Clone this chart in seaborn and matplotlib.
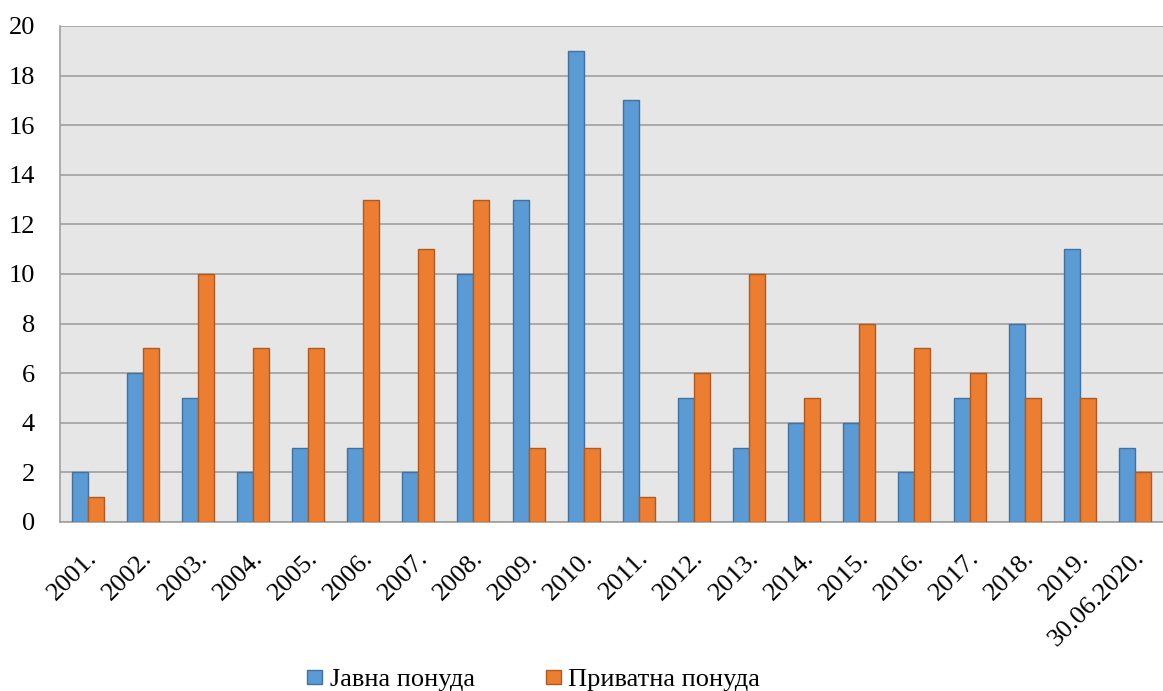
import matplotlib
matplotlib.use("Agg")
import matplotlib.pyplot as plt
import matplotlib.transforms as mtransforms
from matplotlib.patches import Patch
import seaborn as sns
import pandas as pd
import numpy as np

years = ["2001.", "2002.", "2003.", "2004.", "2005.", "2006.", "2007.", "2008.", "2009.", "2010.",
         "2011.", "2012.", "2013.", "2014.", "2015.", "2016.", "2017.", "2018.", "2019.", "30.06.2020."]
javna = [2, 6, 5, 2, 3, 3, 2, 10, 13, 19, 17, 5, 3, 4, 4, 2, 5, 8, 11, 3]
privatna = [1, 7, 10, 7, 7, 13, 11, 13, 3, 3, 1, 6, 10, 5, 8, 7, 6, 5, 5, 2]
series_names = ["Јавна понуда", "Приватна понуда"]

sns.set_style("white")
plt.rcParams['font.family'] = ['Liberation Serif', 'DejaVu Serif']
plt.rcParams['text.color'] = 'black'
plt.rcParams['xtick.color'] = 'black'
plt.rcParams['ytick.color'] = 'black'

df = pd.DataFrame({
    "year": years * 2,
    "value": javna + privatna,
    "series": [series_names[0]] * len(years) + [series_names[1]] * len(years),
})

fills = ["#5B9BD5", "#ED7D31"]
edges = ["#41719C", "#AE5A21"]

fig = plt.figure(figsize=(11.63, 6.91), dpi=100)
ax = fig.add_axes([0.0516, 0.2446, 0.948, 0.7178])
ax.set_facecolor("#E6E6E6")

sns.barplot(data=df, x="year", y="value", hue="series", palette=fills,
            width=0.58, gap=0, ax=ax, legend=False, saturation=1)

n = len(years)
for i, p in enumerate(ax.patches[:2 * n]):
    p.set_edgecolor(edges[i // n])
    p.set_linewidth(1.0)
    p.set_zorder(3)

ax.set_ylim(0, 20)
ax.set_xlim(-0.5, n - 0.5)
ax.set_yticks(np.arange(0, 21, 2))
ax.yaxis.grid(True, color="#A0A0A0", linewidth=1.2, zorder=0)
ax.set_axisbelow(True)
ax.set_xlabel("")
ax.set_ylabel("")

for s in ["top", "right"]:
    ax.spines[s].set_visible(False)
for s in ["left", "bottom"]:
    ax.spines[s].set_color("#A0A0A0")
    ax.spines[s].set_linewidth(1.2)

ax.tick_params(axis="y", length=8, color="#A0A0A0", labelcolor="black", width=1.2, labelsize=19, pad=10)
ax.tick_params(axis="x", which="major", length=0, labelcolor="black", labelsize=19, pad=18)
ax.set_xticks(np.arange(-0.5, n, 1.0), minor=True)
ax.tick_params(axis="x", which="minor", length=6, color="#A0A0A0", width=1.2)

offset = mtransforms.ScaledTranslation(14 / 100, 0, fig.dpi_scale_trans)
for lbl in ax.get_xticklabels():
    lbl.set_rotation(45)
    lbl.set_ha("right")
    lbl.set_transform(lbl.get_transform() + offset)

handles = [Patch(facecolor=fills[i], edgecolor=edges[i], label=series_names[i]) for i in range(2)]
fig.legend(handles=handles, loc="lower center", bbox_to_anchor=(0.459, -0.035), ncol=2,
           frameon=False, fontsize=19, handlelength=0.55, handleheight=0.45,
           handletextpad=0.3, columnspacing=2.7)

fig.savefig("out.png", dpi=100)
